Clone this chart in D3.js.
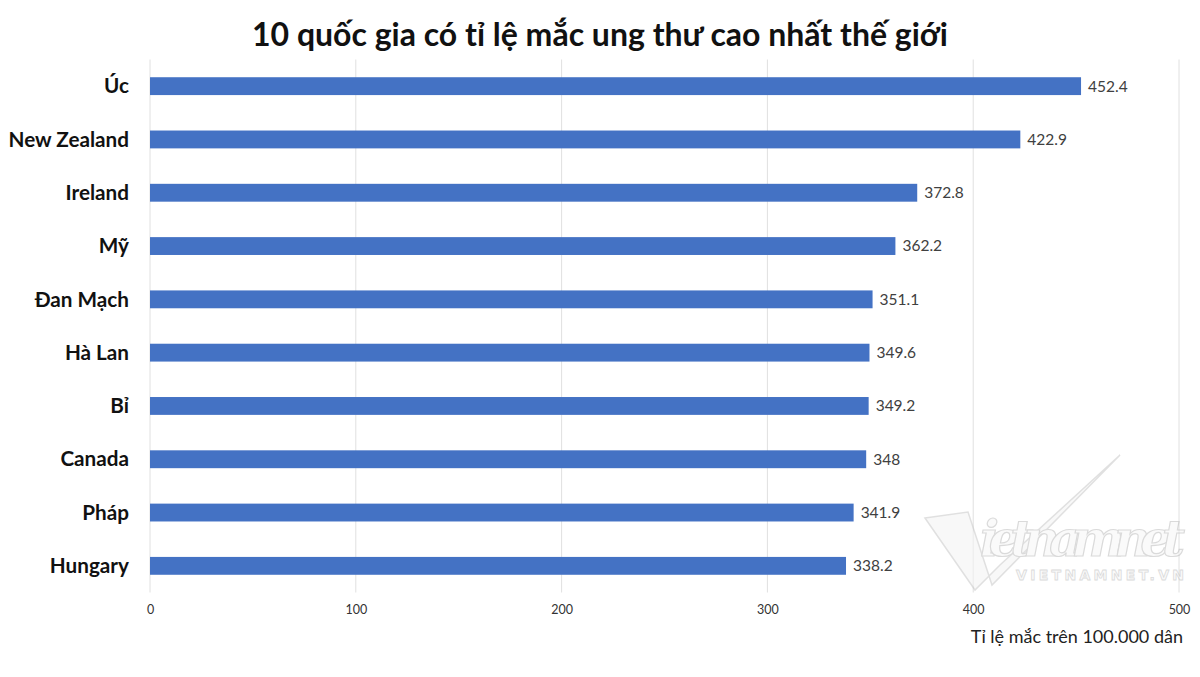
<!DOCTYPE html>
<html>
<head>
<meta charset="utf-8">
<script src="https://cdn.jsdelivr.net/npm/d3@7"></script>
<style>
  html, body { margin: 0; padding: 0; background: #fff; }
  svg { display: block; }
</style>
</head>
<body>
<svg id="chart" width="1200" height="677"></svg>
<script>
const categories = ["Úc", "New Zealand", "Ireland", "Mỹ", "Đan Mạch", "Hà Lan", "Bỉ", "Canada", "Pháp", "Hungary"];
const values = [452.4, 422.9, 372.8, 362.2, 351.1, 349.6, 349.2, 348, 341.9, 338.2];
const valueLabels = ["452.4", "422.9", "372.8", "362.2", "351.1", "349.6", "349.2", "348", "341.9", "338.2"];
const tickValues = [0, 100, 200, 300, 400, 500];
const titleText = "10 quốc gia có tỉ lệ mắc ung thư cao nhất thế giới";
const axisTitle = "Tỉ lệ mắc trên 100.000 dân";

const svg = d3.select("#chart");
const W = 1200, H = 677;
const plot = { left: 150, right: 1179, top: 59.5, bottom: 592.5 };
const FONT = "Lato, 'Open Sans', sans-serif";

const x = d3.scaleLinear().domain([0, 500]).range([plot.left, plot.right]);
const y = d3.scaleBand().domain(categories).range([plot.top, plot.bottom])
  .paddingInner(0.665).paddingOuter(0.3325);

// Title
svg.append("text")
  .attr("x", 600).attr("y", 46)
  .attr("text-anchor", "middle")
  .attr("font-family", FONT).attr("font-weight", 700)
  .attr("font-size", 32).attr("fill", "#111")
  .text(titleText);

// Gridlines
svg.append("g").selectAll("line").data(tickValues).join("line")
  .attr("x1", d => x(d)).attr("x2", d => x(d))
  .attr("y1", plot.top).attr("y2", plot.bottom)
  .attr("stroke", "#e0e0e0").attr("stroke-width", 1);

// Watermark
const wm = svg.append("g").attr("opacity", 0.55);
wm.append("path")
  .attr("d", "M925,518 L968,512 L992,585 L1120,455 L1000,565 L975,590 Z")
  .attr("fill", "#f4f4f4").attr("stroke", "#c8c8c8").attr("stroke-width", 1.5);
wm.append("text")
  .attr("x", 980).attr("y", 556)
  .attr("font-family", "'DejaVu Serif', serif").attr("font-style", "italic").attr("font-weight", 700)
  .attr("font-size", 50).attr("fill", "#f6f6f6").attr("stroke", "#bdbdbd").attr("stroke-width", 1.2)
  .attr("textLength", 205)
  .text("ietnamnet");
wm.append("text")
  .attr("x", 1016).attr("y", 580)
  .attr("font-family", "'DejaVu Sans', sans-serif").attr("font-weight", 700)
  .attr("font-size", 14).attr("fill", "#f6f6f6").attr("stroke", "#bdbdbd").attr("stroke-width", 0.8)
  .attr("textLength", 168)
  .text("VIETNAMNET.VN");

// Bars
svg.append("g").selectAll("rect").data(values).join("rect")
  .attr("x", x(0))
  .attr("y", (d, i) => y(categories[i]))
  .attr("width", d => x(d) - x(0))
  .attr("height", y.bandwidth())
  .attr("fill", "#4472c4");

// Value labels
svg.append("g").selectAll("text").data(values).join("text")
  .attr("x", d => x(d) + 7)
  .attr("y", (d, i) => y(categories[i]) + y.bandwidth() / 2)
  .attr("dy", "0.35em")
  .attr("font-family", FONT).attr("font-size", 15.5).attr("fill", "#404040")
  .text((d, i) => valueLabels[i]);

// Category axis labels
svg.append("g").selectAll("text").data(categories).join("text")
  .attr("x", 129)
  .attr("y", d => y(d) + y.bandwidth() / 2)
  .attr("dy", "0.35em")
  .attr("text-anchor", "end")
  .attr("font-family", FONT).attr("font-weight", 700)
  .attr("font-size", 20.7).attr("fill", "#111")
  .text(d => d);

// X axis tick labels
const xAxis = d3.axisBottom(x).tickValues(tickValues).tickSize(0).tickPadding(0).tickFormat(d3.format("d"));
const gx = svg.append("g").attr("transform", `translate(0, 605)`).call(xAxis);
gx.select(".domain").remove();
gx.selectAll("text").attr("font-family", FONT).attr("font-size", 12.5).attr("fill", "#333");

// Axis title
svg.append("text")
  .attr("x", 1183).attr("y", 643)
  .attr("text-anchor", "end")
  .attr("font-family", FONT).attr("font-size", 18).attr("fill", "#222")
  .text(axisTitle);
</script>
</body>
</html>
